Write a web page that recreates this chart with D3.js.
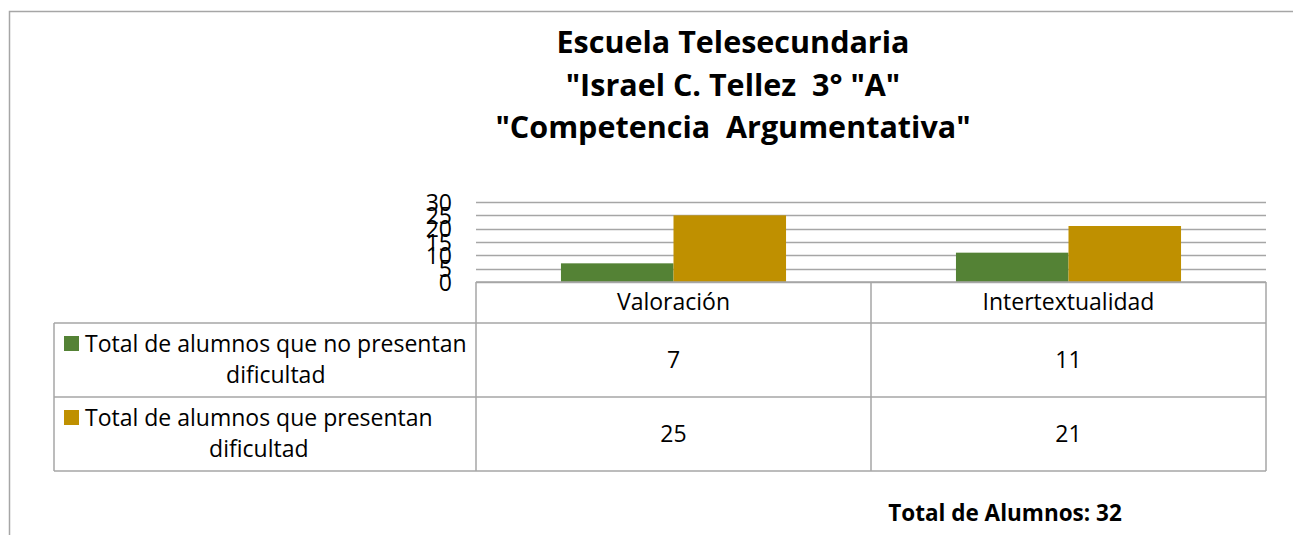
<!DOCTYPE html>
<html>
<head>
<meta charset="utf-8">
<script src="https://cdn.jsdelivr.net/npm/d3@7"></script>
<style>
  body { margin: 0; background: #ffffff; }
  svg text { font-family: "Open Sans", "Noto Sans", sans-serif; fill: #000000; white-space: pre; }
</style>
</head>
<body>
<div id="main"><svg width="1293" height="535"></svg></div>
<script>
var svg = d3.select("#main svg");

// data
var categories = ["Valoración", "Intertextualidad"];
var seriesNames = ["Total de alumnos que no presentan dificultad",
                   "Total de alumnos que presentan dificultad"];
var legendLines = [["Total de alumnos que no presentan", "dificultad"],
                   ["Total de alumnos que presentan", "dificultad"]];
var noDificultad = [7, 11];
var conDificultad = [25, 21];
var yTicks = [0, 5, 10, 15, 20, 25, 30];
var titleLines = ["Escuela Telesecundaria", "\"Israel C. Tellez  3° \"A\"", "\"Competencia  Argumentativa\""];
var footNote = "Total de Alumnos: 32";

var series = [noDificultad, conDificultad];
var colors = ["#548235", "#bf9000"];
var lineColor = "#a6a6a6";
var fs = 23;

// layout
var plot = {l: 476, r: 1266, t: 202, b: 282};
var tableLeft = 54;
var rowY = [282, 323, 397, 471];

// outer frame
svg.append("path")
    .attr("d", "M9.5,535V11.5H1293")
    .attr("fill", "none")
    .attr("stroke", lineColor)
    .attr("stroke-width", 1.5);

// title
svg.append("g").selectAll("text").data(titleLines)
    .enter().append("text")
    .attr("x", 733)
    .attr("y", function(d, i) { return 53 + i * 42.5; })
    .attr("text-anchor", "middle")
    .attr("font-weight", "bold")
    .attr("font-size", 30.5)
    .text(function(d) { return d; });

var xScale = d3.scaleBand()
    .domain(categories)
    .range([plot.l, plot.r]);

var x1 = d3.scaleBand()
    .domain(d3.range(series.length))
    .range([0, xScale.bandwidth()])
    .paddingOuter(0.755);

var yScale = d3.scaleLinear()
    .domain([0, 30])
    .range([plot.b, plot.t]);

// gridlines
svg.append("g").selectAll("line").data(yTicks)
    .enter().append("line")
    .attr("x1", plot.l)
    .attr("x2", plot.r)
    .attr("y1", function(d) { return Math.round(yScale(d)) + 0.5; })
    .attr("y2", function(d) { return Math.round(yScale(d)) + 0.5; })
    .attr("stroke", lineColor)
    .attr("stroke-width", 1.5);

// y axis labels
var yAxis = d3.axisLeft(yScale).tickValues(yTicks).tickSize(0).tickPadding(0);
var yg = svg.append("g")
    .attr("transform", "translate(" + [452, 0] + ")")
    .call(yAxis);
yg.select(".domain").remove();
yg.selectAll("text")
    .attr("font-size", fs)
    .attr("font-family", "Open Sans")
    .attr("fill", "#000")
    .attr("dy", "0.36em");

// bars
var groups = svg.append("g").selectAll("g").data(series)
    .enter().append("g")
    .attr("fill", function(d, i) { return colors[i]; });

groups.selectAll("rect")
    .data(function(d, i) { return d.map(function(v, j) { return {s: i, c: categories[j], v: v}; }); })
    .enter().append("rect")
    .attr("x", function(d) { return xScale(d.c) + x1(d.s); })
    .attr("width", x1.bandwidth())
    .attr("y", function(d) { return yScale(d.v); })
    .attr("height", function(d) { return yScale(0) - yScale(d.v); });

// data table
var table = svg.append("g")
    .attr("fill", "none")
    .attr("stroke", lineColor)
    .attr("stroke-width", 1.5);

table.append("path")
    .attr("d", "M" + plot.l + "," + rowY[0] + "H" + plot.r +
               "M" + tableLeft + "," + rowY[1] + "H" + plot.r +
               "M" + tableLeft + "," + rowY[2] + "H" + plot.r +
               "M" + tableLeft + "," + rowY[3] + "H" + plot.r +
               "M" + tableLeft + "," + rowY[1] + "V" + rowY[3]);

table.selectAll(".vline").data(xScale.domain().concat(["end"]))
    .enter().append("line")
    .attr("class", "vline")
    .attr("x1", function(d) { return d == "end" ? plot.r : xScale(d); })
    .attr("x2", function(d) { return d == "end" ? plot.r : xScale(d); })
    .attr("y1", rowY[0])
    .attr("y2", rowY[3]);

// header
svg.append("g").selectAll("text").data(categories)
    .enter().append("text")
    .attr("x", function(d) { return xScale(d) + xScale.bandwidth() / 2; })
    .attr("y", rowY[0] + 28)
    .attr("text-anchor", "middle")
    .attr("font-size", fs)
    .text(function(d) { return d; });

// values
series.forEach(function(s, i) {
  svg.append("g").selectAll("text").data(s)
      .enter().append("text")
      .attr("x", function(d, j) { return xScale(categories[j]) + xScale.bandwidth() / 2; })
      .attr("y", rowY[i + 1] + 45)
      .attr("text-anchor", "middle")
      .attr("font-size", fs)
      .text(function(d) { return d; });

  // legend key
  var top = rowY[i + 1];
  svg.append("rect")
      .attr("x", 64)
      .attr("y", top + 13)
      .attr("width", 15)
      .attr("height", 15)
      .attr("fill", colors[i]);

  var l1 = svg.append("text")
      .attr("x", 85)
      .attr("y", top + 29)
      .attr("font-size", fs)
      .text(legendLines[i][0]);
  var w1 = l1.node().getComputedTextLength();
  svg.append("text")
      .attr("x", 85 + w1 / 2)
      .attr("y", top + 60)
      .attr("text-anchor", "middle")
      .attr("font-size", fs)
      .text(legendLines[i][1]);
});

// footnote
svg.append("text")
    .attr("x", 1005)
    .attr("y", 521)
    .attr("text-anchor", "middle")
    .attr("font-weight", "bold")
    .attr("font-size", 22.5)
    .text(footNote);
</script>
</body>
</html>
